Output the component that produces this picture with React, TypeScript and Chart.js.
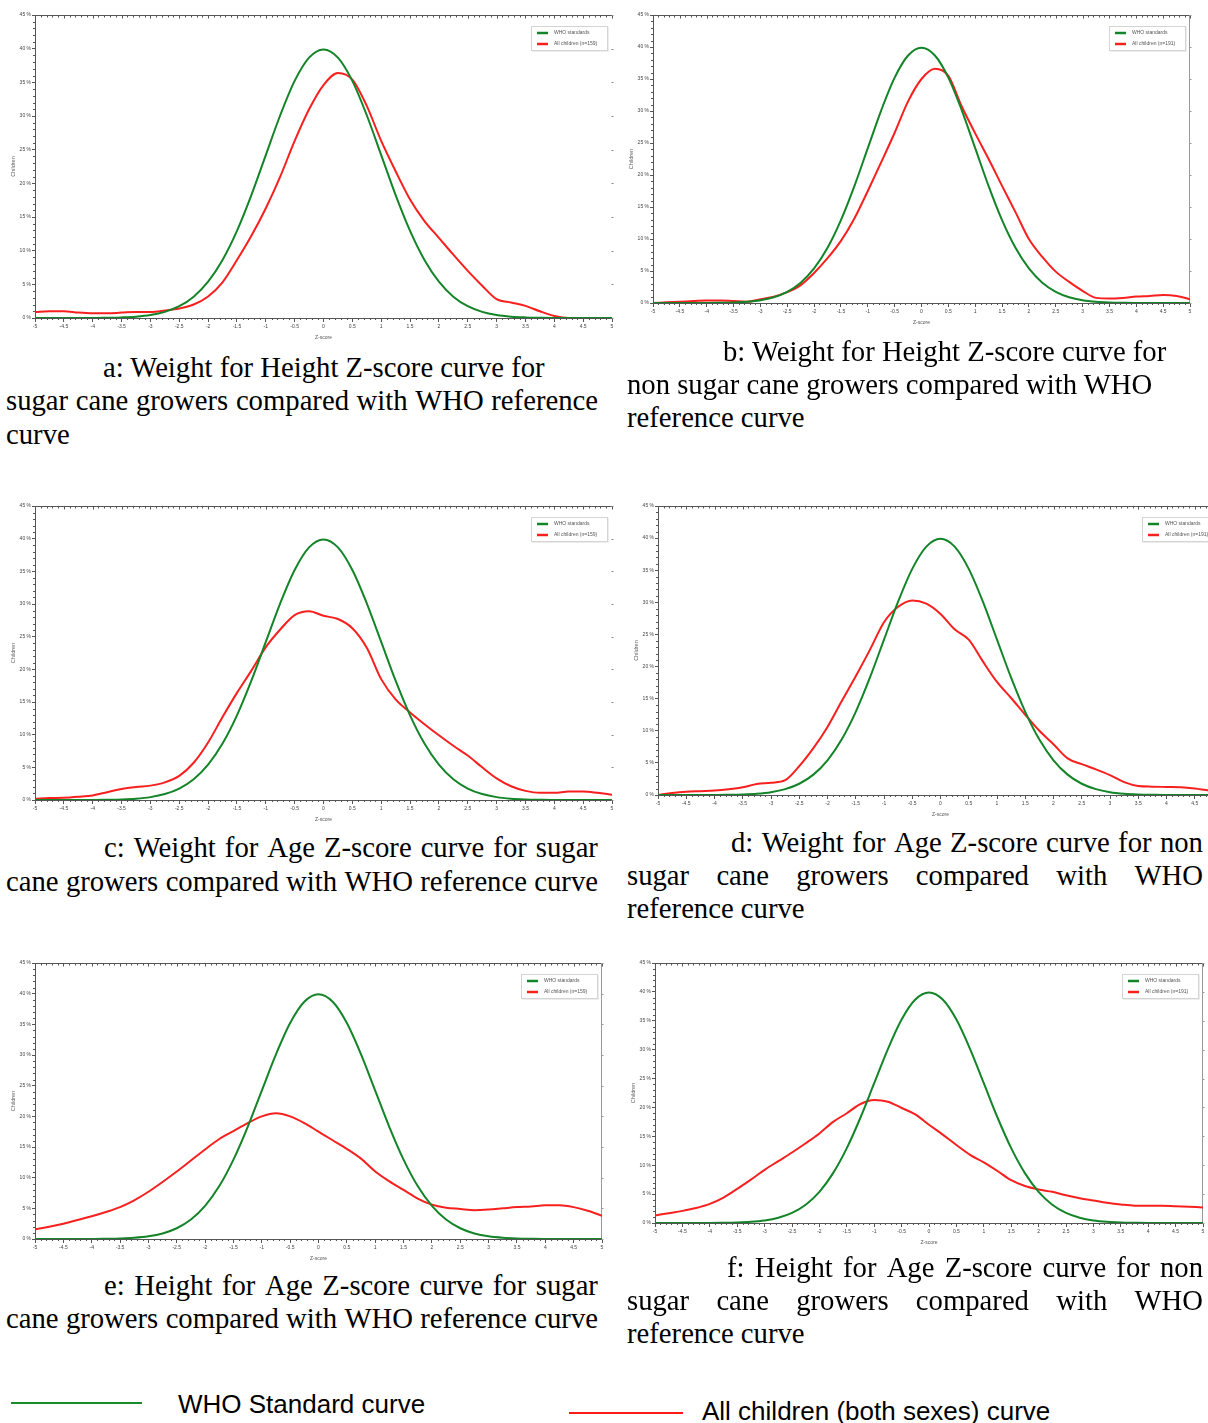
import React, { useEffect, useRef } from 'react';
import { Chart, registerables } from 'chart.js';

Chart.register(...registerables);

// ---------------- data ----------------
const zScores = [-5, -4.75, -4.5, -4.25, -4, -3.75, -3.5, -3.25, -3, -2.75, -2.5, -2.25, -2, -1.75, -1.5, -1.25, -1, -0.75, -0.5, -0.25, 0, 0.25, 0.5, 0.75, 1, 1.25, 1.5, 1.75, 2, 2.25, 2.5, 2.75, 3, 3.25, 3.5, 3.75, 4, 4.25, 4.5, 4.75, 5];

const whoStandard = [0, 0, 0, 0.01, 0.01, 0.04, 0.09, 0.2, 0.44, 0.91, 1.75, 3.17, 5.4, 8.63, 12.95, 18.26, 24.2, 30.11, 35.21, 38.67, 39.89, 38.67, 35.21, 30.11, 24.2, 18.26, 12.95, 8.63, 5.4, 3.17, 1.75, 0.91, 0.44, 0.2, 0.09, 0.04, 0.01, 0.01, 0, 0, 0];

// a: Weight for Height, sugar cane growers
const childrenA = [0.9, 1.0, 1.0, 0.8, 0.7, 0.7, 0.8, 0.9, 0.9, 1.1, 1.4, 2.0, 3.2, 5.3, 8.6, 12.2, 16.3, 21.0, 26.3, 31.0, 34.6, 36.4, 35.4, 31.5, 26.3, 21.8, 17.6, 14.4, 11.9, 9.4, 7.0, 4.8, 2.8, 2.3, 1.8, 1.0, 0.3, 0, 0, 0, 0];
// b: Weight for Height, non sugar cane growers
const childrenB = [0, 0.1, 0.2, 0.3, 0.4, 0.4, 0.3, 0.2, 0.6, 1.0, 1.7, 2.8, 4.7, 7.0, 9.7, 13.2, 17.5, 22.0, 26.6, 31.5, 35.0, 36.6, 35.5, 30.7, 26.5, 22.5, 18.3, 14.2, 10.0, 7.2, 4.9, 3.3, 1.9, 0.8, 0.7, 0.8, 1.0, 1.1, 1.25, 1.1, 0.6];
// c: Weight for Age, sugar cane growers
const childrenC = [0.2, 0.3, 0.35, 0.5, 0.7, 1.2, 1.7, 2.0, 2.2, 2.7, 3.7, 5.7, 8.8, 12.7, 16.4, 19.8, 23.4, 26.1, 28.3, 28.9, 28.2, 27.7, 26.3, 23.3, 18.5, 15.4, 13.4, 11.6, 9.9, 8.3, 6.8, 5.0, 3.3, 2.1, 1.4, 1.1, 1.1, 1.3, 1.3, 1.1, 0.8];
// d: Weight for Age, non sugar cane growers
const childrenD = [0, 0.3, 0.5, 0.6, 0.7, 0.9, 1.2, 1.7, 1.9, 2.3, 4.5, 7.3, 10.6, 14.6, 18.5, 22.6, 26.9, 29.3, 30.3, 29.8, 28.2, 25.8, 24.2, 20.8, 17.6, 15.1, 12.5, 10.0, 7.9, 5.7, 4.8, 4.0, 3.1, 2.0, 1.4, 1.3, 1.25, 1.2, 1.0, 0.7, 0.5];
// e: Height for Age, sugar cane growers
const childrenE = [1.6, 2.0, 2.5, 3.1, 3.7, 4.4, 5.2, 6.3, 7.7, 9.3, 11.0, 12.8, 14.6, 16.3, 17.6, 18.9, 20.0, 20.5, 20.0, 18.9, 17.5, 16.1, 14.7, 13.1, 11.0, 9.4, 8.0, 6.6, 5.6, 5.1, 4.9, 4.7, 4.8, 5.0, 5.2, 5.3, 5.5, 5.5, 5.2, 4.6, 3.8];
// f: Height for Age, non sugar cane growers
const childrenF = [1.3, 1.7, 2.1, 2.6, 3.3, 4.4, 5.9, 7.5, 9.2, 10.7, 12.2, 13.8, 15.5, 17.5, 19.0, 20.6, 21.3, 21.0, 19.9, 18.8, 17.0, 15.3, 13.5, 11.8, 10.5, 9.0, 7.4, 6.4, 5.8, 5.4, 4.8, 4.3, 3.9, 3.5, 3.2, 3.0, 3.0, 3.0, 2.9, 2.8, 2.7];

const xTickValues = [-5, -4.5, -4, -3.5, -3, -2.5, -2, -1.5, -1, -0.5, 0, 0.5, 1, 1.5, 2, 2.5, 3, 3.5, 4, 4.5, 5];
const xTickLabels = ['-5', '-4.5', '-4', '-3.5', '-3', '-2.5', '-2', '-1.5', '-1', '-0.5', '0', '0.5', '1', '1.5', '2', '2.5', '3', '3.5', '4', '4.5', '5'];
const yTickValues = [0, 5, 10, 15, 20, 25, 30, 35, 40, 45];
const yTickLabels = ['0 %', '5 %', '10 %', '15 %', '20 %', '25 %', '30 %', '35 %', '40 %', '45 %'];

const whoLabel = 'WHO standards';
const sampleLabels = ['All children (n=159)', 'All children (n=191)'];
const xTitle = 'Z-score';
const yTitle = 'Children';

// ---------------- styles / layout ----------------
const SANS = '"Liberation Sans", Arial, sans-serif';
const SERIF = '"Liberation Serif", "Times New Roman", serif';
const GREEN = '#138428';
const RED = '#f7201e';
const AXIS = '#555555';
const TICKTXT = '#444444';

type PanelSpec = { red: number[]; label: string; plot: [number, number, number, number]; rightBorder: boolean };

const panels: PanelSpec[] = [
  { red: childrenA, label: sampleLabels[0], plot: [35, 15, 612, 318], rightBorder: false },
  { red: childrenB, label: sampleLabels[1], plot: [653, 15, 1190, 303], rightBorder: true },
  { red: childrenC, label: sampleLabels[0], plot: [35, 506, 612, 800], rightBorder: false },
  { red: childrenD, label: sampleLabels[1], plot: [658, 506, 1223, 795], rightBorder: true },
  { red: childrenE, label: sampleLabels[0], plot: [35, 963, 602, 1239], rightBorder: true },
  { red: childrenF, label: sampleLabels[1], plot: [655, 963, 1203, 1223], rightBorder: true },
];

type CaptionLine = { text: string; left: number; right?: number; cy: number };
const captionLines: CaptionLine[] = [
  { text: 'a: Weight for Height Z-score curve for', left: 103, cy: 368 },
  { text: 'sugar cane growers compared with WHO reference', left: 6, right: 598, cy: 401 },
  { text: 'curve', left: 6, cy: 435 },
  { text: 'b: Weight for Height Z-score curve for', left: 723, cy: 352 },
  { text: 'non sugar cane growers compared with WHO', left: 627, cy: 385 },
  { text: 'reference curve', left: 627, cy: 418 },
  { text: 'c: Weight for Age Z-score curve for sugar', left: 104, right: 598, cy: 848 },
  { text: 'cane growers compared with WHO reference curve', left: 6, right: 598, cy: 882 },
  { text: 'd: Weight for Age Z-score curve for non', left: 731, right: 1203, cy: 843 },
  { text: 'sugar cane growers compared with WHO', left: 627, right: 1203, cy: 876 },
  { text: 'reference curve', left: 627, cy: 909 },
  { text: 'e: Height for Age Z-score curve for sugar', left: 104, right: 598, cy: 1286 },
  { text: 'cane growers compared with WHO reference curve', left: 6, right: 598, cy: 1319 },
  { text: 'f: Height for Age Z-score curve for non', left: 727, right: 1203, cy: 1268 },
  { text: 'sugar cane growers compared with WHO', left: 627, right: 1203, cy: 1301 },
  { text: 'reference curve', left: 627, cy: 1334 },
];

const CAPTION_SIZE = 28.7;

// ---------------- plugin: frame, minor ticks, legend box ----------------
const framePlugin = {
  id: 'frameTicks',
  beforeDatasetsDraw(chart: any) {
    const { ctx, chartArea: a, scales } = chart;
    const x = scales.x;
    const y = scales.y;
    const rightBorder = chart.options.plugins.frameTicks?.rightBorder;
    ctx.save();
    ctx.lineWidth = 1;
    ctx.strokeStyle = AXIS;
    ctx.beginPath();
    const topY = Math.round(a.top) + 0.5;
    ctx.moveTo(a.left, topY);
    ctx.lineTo(a.right, topY);
    for (let k = -50; k <= 50; k++) {
      const px = Math.round(x.getPixelForValue(k / 10)) + 0.5;
      const major = k % 5 === 0;
      ctx.moveTo(px, topY);
      ctx.lineTo(px, topY + (major ? 3 : 2));
      if (!major) {
        ctx.moveTo(px, a.bottom);
        ctx.lineTo(px, a.bottom + 2);
      }
    }
    for (let k = 0; k <= 45; k++) {
      if (k % 5 === 0) continue;
      const py = Math.round(y.getPixelForValue(k)) + 0.5;
      ctx.moveTo(a.left, py);
      ctx.lineTo(a.left - 2, py);
    }
    ctx.stroke();

    ctx.beginPath();
    ctx.strokeStyle = rightBorder ? '#9a9a9a' : '#888888';
    const rx = Math.round(a.right) - 0.5;
    if (rightBorder) {
      ctx.moveTo(rx, a.top);
      ctx.lineTo(rx, a.bottom);
    }
    for (let k = 0; k <= 45; k += 5) {
      const py = Math.round(y.getPixelForValue(k)) + 0.5;
      ctx.moveTo(rx, py);
      ctx.lineTo(rx + 2, py);
    }
    ctx.stroke();
    ctx.restore();
  },
  afterDraw(chart: any) {
    const { ctx, chartArea: a } = chart;
    const ds = chart.data.datasets;
    ctx.save();
    ctx.font = `5px ${SANS}`;
    const tw = Math.max(...ds.map((d: any) => ctx.measureText(d.label).width));
    const w = Math.round(23 + tw + 10);
    const h = 24;
    const bx = Math.round(a.right - 5 - w);
    const by = Math.round(a.top + 11);
    ctx.fillStyle = 'rgba(0,0,0,0.07)';
    ctx.fillRect(bx + 1, by + 1, w + 1, h + 1);
    ctx.fillStyle = '#ffffff';
    ctx.fillRect(bx, by, w, h);
    ctx.strokeStyle = '#d4d4d4';
    ctx.lineWidth = 1;
    ctx.strokeRect(bx + 0.5, by + 0.5, w, h);
    ds.forEach((d: any, i: number) => {
      const cy = by + 7 + i * 11;
      ctx.strokeStyle = d.borderColor;
      ctx.lineWidth = 2.5;
      ctx.beginPath();
      ctx.moveTo(bx + 6, cy);
      ctx.lineTo(bx + 17, cy);
      ctx.stroke();
      ctx.fillStyle = '#555555';
      ctx.textBaseline = 'middle';
      ctx.textAlign = 'left';
      ctx.fillText(d.label, bx + 23, cy);
    });
    ctx.restore();
  },
};

// ---------------- components ----------------
function Panel({ spec }: { spec: PanelSpec }) {
  const ref = useRef<HTMLCanvasElement | null>(null);
  const [L, T, R, B] = spec.plot;
  const left = L - 35;
  const top = T - 10;
  const width = R - L + 45;
  const height = B - T + 40;

  useEffect(() => {
    if (!ref.current) return;
    const chart = new Chart(ref.current, {
      type: 'line',
      data: {
        datasets: [
          {
            label: whoLabel,
            data: zScores.map((z, i) => ({ x: z, y: whoStandard[i] })),
            borderColor: GREEN,
            backgroundColor: GREEN,
            borderWidth: 2,
            pointRadius: 0,
            cubicInterpolationMode: 'monotone',
          },
          {
            label: spec.label,
            data: zScores.map((z, i) => ({ x: z, y: spec.red[i] })),
            borderColor: RED,
            backgroundColor: RED,
            borderWidth: 2,
            pointRadius: 0,
            cubicInterpolationMode: 'monotone',
          },
        ],
      },
      options: {
        animation: false,
        responsive: false,
        maintainAspectRatio: false,
        devicePixelRatio: 1,
        layout: { padding: { top: 10, right: 10, left: 0, bottom: 0 } },
        plugins: {
          legend: { display: false },
          tooltip: { enabled: false },
          frameTicks: { rightBorder: spec.rightBorder },
        } as any,
        scales: {
          x: {
            type: 'linear',
            min: -5,
            max: 5,
            afterFit: (s: any) => {
              s.height = 30;
            },
            afterBuildTicks: (s: any) => {
              s.ticks = xTickValues.map((value) => ({ value }));
            },
            ticks: {
              autoSkip: false,
              maxRotation: 0,
              minRotation: 0,
              padding: 2,
              color: TICKTXT,
              font: { size: 5, family: SANS },
              callback: (_v: any, i: number) => xTickLabels[i],
            },
            grid: { drawOnChartArea: false, drawTicks: true, tickLength: 4, color: AXIS },
            border: { display: true, color: AXIS, width: 1 },
            title: {
              display: true,
              text: xTitle,
              color: '#555555',
              font: { size: 5, family: SANS },
              padding: { top: 0, bottom: 7 },
            },
          },
          y: {
            type: 'linear',
            min: 0,
            max: 45,
            afterFit: (s: any) => {
              s.width = 35;
            },
            afterBuildTicks: (s: any) => {
              s.ticks = yTickValues.map((value) => ({ value }));
            },
            ticks: {
              padding: 1,
              color: TICKTXT,
              font: { size: 5, family: SANS },
              callback: (_v: any, i: number) => yTickLabels[i],
            },
            grid: { drawOnChartArea: false, drawTicks: true, tickLength: 3, color: AXIS },
            border: { display: true, color: AXIS, width: 1 },
            title: {
              display: true,
              text: yTitle,
              color: '#666666',
              font: { size: 5.5, family: SANS },
              padding: { top: 10, bottom: 0 },
            },
          },
        },
      } as any,
      plugins: [framePlugin],
    });
    return () => chart.destroy();
  }, []);

  return (
    <canvas
      ref={ref}
      width={width}
      height={height}
      style={{ position: 'absolute', left, top, width, height, display: 'block' }}
    />
  );
}

function Caption({ line }: { line: CaptionLine }) {
  const top = line.cy - 15.4;
  if (line.right !== undefined) {
    const words = line.text.split(' ');
    return (
      <div
        style={{
          position: 'absolute',
          left: line.left,
          top,
          width: line.right - line.left,
          display: 'flex',
          justifyContent: 'space-between',
          lineHeight: 1,
          whiteSpace: 'nowrap',
        }}
      >
        {words.map((w, i) => (
          <span key={i}>{w}</span>
        ))}
      </div>
    );
  }
  return (
    <div style={{ position: 'absolute', left: line.left, top, lineHeight: 1, whiteSpace: 'nowrap' }}>{line.text}</div>
  );
}

export default function App() {
  return (
    <div
      style={{
        position: 'absolute',
        left: 0,
        top: 0,
        width: 1208,
        height: 1423,
        overflow: 'hidden',
        background: '#ffffff',
      }}
    >
      {panels.map((p, i) => (
        <Panel key={i} spec={p} />
      ))}
      <div style={{ fontFamily: SERIF, fontSize: CAPTION_SIZE, color: '#000' }}>
        {captionLines.map((l, i) => (
          <Caption key={i} line={l} />
        ))}
      </div>
      <div style={{ position: 'absolute', left: 11, top: 1402, width: 131, height: 2, background: '#1a8a2a' }} />
      <div
        style={{
          position: 'absolute',
          left: 178,
          top: 1391,
          fontFamily: SANS,
          fontSize: 26,
          lineHeight: 1,
          whiteSpace: 'nowrap',
          color: '#000',
        }}
      >
        WHO Standard curve
      </div>
      <div style={{ position: 'absolute', left: 569, top: 1412, width: 114, height: 2, background: '#ff1a1a' }} />
      <div
        style={{
          position: 'absolute',
          left: 702,
          top: 1398,
          fontFamily: SANS,
          fontSize: 26,
          lineHeight: 1,
          whiteSpace: 'nowrap',
          color: '#000',
        }}
      >
        All children (both sexes) curve
      </div>
    </div>
  );
}
